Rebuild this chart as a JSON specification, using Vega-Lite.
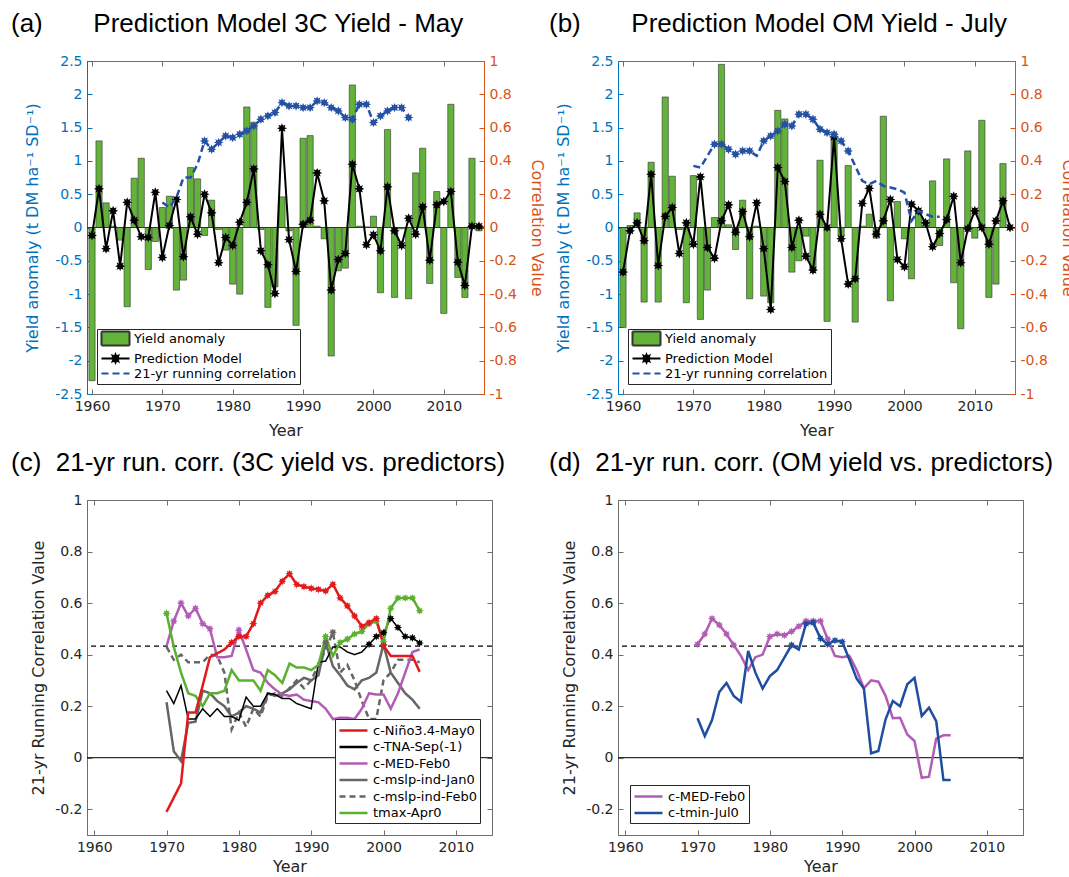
{
"$schema": "https://vega.github.io/schema/vega-lite/v6.json",
"background": "white",
"padding": {"left": 10, "top": 10, "right": 0, "bottom": 0},
"columns": 2,
"spacing": {"row": 106, "column": 126},
"bounds": "flush",
"resolve": {"scale": {"color": "independent", "strokeDash": "independent", "fill": "independent", "stroke": "independent", "shape": "independent"}, "legend": {"color": "independent", "strokeDash": "independent", "fill": "independent", "stroke": "independent", "shape": "independent"}},
"datasets": {
"a_yield": [{"year":1960,"yield":-2.3},{"year":1961,"yield":1.3},{"year":1962,"yield":0.37},{"year":1963,"yield":0.02},{"year":1964,"yield":-0.19},{"year":1965,"yield":-1.19},{"year":1966,"yield":0.74},{"year":1967,"yield":1.04},{"year":1968,"yield":-0.63},{"year":1969,"yield":-0.21},{"year":1970,"yield":0.3},{"year":1971,"yield":0.47},{"year":1972,"yield":-0.94},{"year":1973,"yield":-0.79},{"year":1974,"yield":0.9},{"year":1975,"yield":0.73},{"year":1976,"yield":-0.12},{"year":1977,"yield":0.41},{"year":1978,"yield":-0.03},{"year":1979,"yield":-0.34},{"year":1980,"yield":-0.85},{"year":1981,"yield":-1.0},{"year":1982,"yield":1.81},{"year":1983,"yield":1.58},{"year":1984,"yield":-0.03},{"year":1985,"yield":-1.2},{"year":1986,"yield":-0.89},{"year":1987,"yield":0.46},{"year":1988,"yield":-0.05},{"year":1989,"yield":-1.47},{"year":1990,"yield":1.34},{"year":1991,"yield":1.38},{"year":1992,"yield":0.02},{"year":1993,"yield":-0.17},{"year":1994,"yield":-1.93},{"year":1995,"yield":-0.65},{"year":1996,"yield":-0.61},{"year":1997,"yield":2.14},{"year":1998,"yield":0.02},{"year":1999,"yield":0.01},{"year":2000,"yield":0.17},{"year":2001,"yield":-0.98},{"year":2002,"yield":1.47},{"year":2003,"yield":-1.05},{"year":2004,"yield":-0.02},{"year":2005,"yield":-1.07},{"year":2006,"yield":0.82},{"year":2007,"yield":1.19},{"year":2008,"yield":-0.84},{"year":2009,"yield":0.54},{"year":2010,"yield":-1.29},{"year":2011,"yield":1.85},{"year":2012,"yield":-0.75},{"year":2013,"yield":-1.05},{"year":2014,"yield":1.04},{"year":2015,"yield":-0.05}],
"a_pred": [{"year":1960,"pred":-0.12},{"year":1961,"pred":0.58},{"year":1962,"pred":-0.32},{"year":1963,"pred":0.25},{"year":1964,"pred":-0.58},{"year":1965,"pred":0.38},{"year":1966,"pred":0.11},{"year":1967,"pred":-0.14},{"year":1968,"pred":-0.15},{"year":1969,"pred":0.53},{"year":1970,"pred":-0.45},{"year":1971,"pred":0.03},{"year":1972,"pred":0.42},{"year":1973,"pred":-0.44},{"year":1974,"pred":0.16},{"year":1975,"pred":-0.1},{"year":1976,"pred":0.5},{"year":1977,"pred":0.22},{"year":1978,"pred":-0.53},{"year":1979,"pred":-0.15},{"year":1980,"pred":-0.27},{"year":1981,"pred":0.08},{"year":1982,"pred":0.38},{"year":1983,"pred":0.88},{"year":1984,"pred":-0.35},{"year":1985,"pred":-0.56},{"year":1986,"pred":-0.99},{"year":1987,"pred":1.49},{"year":1988,"pred":-0.18},{"year":1989,"pred":-0.66},{"year":1990,"pred":0.05},{"year":1991,"pred":0.11},{"year":1992,"pred":0.82},{"year":1993,"pred":0.4},{"year":1994,"pred":-0.94},{"year":1995,"pred":-0.48},{"year":1996,"pred":-0.39},{"year":1997,"pred":0.95},{"year":1998,"pred":0.58},{"year":1999,"pred":-0.26},{"year":2000,"pred":-0.11},{"year":2001,"pred":-0.35},{"year":2002,"pred":0.61},{"year":2003,"pred":-0.05},{"year":2004,"pred":-0.27},{"year":2005,"pred":0.14},{"year":2006,"pred":-0.1},{"year":2007,"pred":0.31},{"year":2008,"pred":-0.49},{"year":2009,"pred":0.34},{"year":2010,"pred":0.39},{"year":2011,"pred":0.54},{"year":2012,"pred":-0.52},{"year":2013,"pred":-0.87},{"year":2014,"pred":0.02},{"year":2015,"pred":0.02}],
"a_corr": [{"year":1970,"corr":0.15,"sig":false},{"year":1971,"corr":0.12,"sig":false},{"year":1972,"corr":0.18,"sig":false},{"year":1973,"corr":0.3,"sig":false},{"year":1974,"corr":0.3,"sig":false},{"year":1975,"corr":0.38,"sig":false},{"year":1976,"corr":0.52,"sig":true},{"year":1977,"corr":0.47,"sig":true},{"year":1978,"corr":0.51,"sig":true},{"year":1979,"corr":0.55,"sig":true},{"year":1980,"corr":0.54,"sig":true},{"year":1981,"corr":0.56,"sig":true},{"year":1982,"corr":0.58,"sig":true},{"year":1983,"corr":0.61,"sig":true},{"year":1984,"corr":0.65,"sig":true},{"year":1985,"corr":0.67,"sig":true},{"year":1986,"corr":0.69,"sig":true},{"year":1987,"corr":0.75,"sig":true},{"year":1988,"corr":0.73,"sig":true},{"year":1989,"corr":0.73,"sig":true},{"year":1990,"corr":0.72,"sig":true},{"year":1991,"corr":0.72,"sig":true},{"year":1992,"corr":0.76,"sig":true},{"year":1993,"corr":0.75,"sig":true},{"year":1994,"corr":0.72,"sig":true},{"year":1995,"corr":0.7,"sig":true},{"year":1996,"corr":0.66,"sig":true},{"year":1997,"corr":0.65,"sig":true},{"year":1998,"corr":0.74,"sig":true},{"year":1999,"corr":0.74,"sig":true},{"year":2000,"corr":0.63,"sig":true},{"year":2001,"corr":0.67,"sig":true},{"year":2002,"corr":0.7,"sig":true},{"year":2003,"corr":0.72,"sig":true},{"year":2004,"corr":0.72,"sig":true},{"year":2005,"corr":0.66,"sig":true}],
"b_yield": [{"year":1960,"yield":-1.5},{"year":1961,"yield":0.03},{"year":1962,"yield":0.22},{"year":1963,"yield":-1.12},{"year":1964,"yield":0.98},{"year":1965,"yield":-1.12},{"year":1966,"yield":1.96},{"year":1967,"yield":0.77},{"year":1968,"yield":-0.03},{"year":1969,"yield":-1.13},{"year":1970,"yield":0.78},{"year":1971,"yield":-1.38},{"year":1972,"yield":-0.94},{"year":1973,"yield":0.15},{"year":1974,"yield":2.45},{"year":1975,"yield":0.04},{"year":1976,"yield":-0.33},{"year":1977,"yield":0.41},{"year":1978,"yield":-1.07},{"year":1979,"yield":0.02},{"year":1980,"yield":-1.03},{"year":1981,"yield":-1.13},{"year":1982,"yield":1.76},{"year":1983,"yield":1.63},{"year":1984,"yield":-0.67},{"year":1985,"yield":-0.5},{"year":1986,"yield":-0.13},{"year":1987,"yield":-0.63},{"year":1988,"yield":1.01},{"year":1989,"yield":-1.41},{"year":1990,"yield":1.34},{"year":1991,"yield":-0.13},{"year":1992,"yield":0.93},{"year":1993,"yield":-1.42},{"year":1994,"yield":0.02},{"year":1995,"yield":0.2},{"year":1996,"yield":-0.16},{"year":1997,"yield":1.67},{"year":1998,"yield":-1.1},{"year":1999,"yield":0.39},{"year":2000,"yield":-0.17},{"year":2001,"yield":-0.77},{"year":2002,"yield":0.25},{"year":2003,"yield":0.02},{"year":2004,"yield":0.7},{"year":2005,"yield":-0.27},{"year":2006,"yield":1.03},{"year":2007,"yield":-0.83},{"year":2008,"yield":-1.52},{"year":2009,"yield":1.15},{"year":2010,"yield":-0.16},{"year":2011,"yield":1.61},{"year":2012,"yield":-1.05},{"year":2013,"yield":-0.85},{"year":2014,"yield":0.96}],
"b_pred": [{"year":1960,"pred":-0.67},{"year":1961,"pred":-0.05},{"year":1962,"pred":0.07},{"year":1963,"pred":-0.2},{"year":1964,"pred":0.8},{"year":1965,"pred":-0.57},{"year":1966,"pred":0.17},{"year":1967,"pred":0.3},{"year":1968,"pred":-0.39},{"year":1969,"pred":0.07},{"year":1970,"pred":-0.25},{"year":1971,"pred":0.76},{"year":1972,"pred":-0.3},{"year":1973,"pred":-0.46},{"year":1974,"pred":0.1},{"year":1975,"pred":0.34},{"year":1976,"pred":-0.07},{"year":1977,"pred":0.24},{"year":1978,"pred":-0.14},{"year":1979,"pred":0.37},{"year":1980,"pred":-0.32},{"year":1981,"pred":-1.23},{"year":1982,"pred":0.9},{"year":1983,"pred":0.69},{"year":1984,"pred":-0.3},{"year":1985,"pred":0.11},{"year":1986,"pred":-0.43},{"year":1987,"pred":-0.64},{"year":1988,"pred":0.2},{"year":1989,"pred":0.0},{"year":1990,"pred":1.36},{"year":1991,"pred":-0.17},{"year":1992,"pred":-0.85},{"year":1993,"pred":-0.77},{"year":1994,"pred":0.36},{"year":1995,"pred":0.59},{"year":1996,"pred":-0.1},{"year":1997,"pred":0.1},{"year":1998,"pred":0.42},{"year":1999,"pred":-0.48},{"year":2000,"pred":-0.59},{"year":2001,"pred":0.35},{"year":2002,"pred":0.25},{"year":2003,"pred":0.07},{"year":2004,"pred":-0.29},{"year":2005,"pred":-0.09},{"year":2006,"pred":0.12},{"year":2007,"pred":0.47},{"year":2008,"pred":-0.53},{"year":2009,"pred":-0.02},{"year":2010,"pred":0.25},{"year":2011,"pred":0.0},{"year":2012,"pred":-0.25},{"year":2013,"pred":0.1},{"year":2014,"pred":0.4},{"year":2015,"pred":0.0}],
"b_corr": [{"year":1970,"corr":0.37,"sig":false},{"year":1971,"corr":0.36,"sig":false},{"year":1972,"corr":0.43,"sig":false},{"year":1973,"corr":0.5,"sig":true},{"year":1974,"corr":0.5,"sig":true},{"year":1975,"corr":0.47,"sig":true},{"year":1976,"corr":0.44,"sig":true},{"year":1977,"corr":0.46,"sig":true},{"year":1978,"corr":0.46,"sig":true},{"year":1979,"corr":0.43,"sig":false},{"year":1980,"corr":0.52,"sig":true},{"year":1981,"corr":0.55,"sig":true},{"year":1982,"corr":0.58,"sig":true},{"year":1983,"corr":0.62,"sig":true},{"year":1984,"corr":0.61,"sig":true},{"year":1985,"corr":0.68,"sig":true},{"year":1986,"corr":0.68,"sig":true},{"year":1987,"corr":0.65,"sig":true},{"year":1988,"corr":0.59,"sig":true},{"year":1989,"corr":0.57,"sig":true},{"year":1990,"corr":0.56,"sig":true},{"year":1991,"corr":0.52,"sig":true},{"year":1992,"corr":0.46,"sig":true},{"year":1993,"corr":0.37,"sig":false},{"year":1994,"corr":0.28,"sig":false},{"year":1995,"corr":0.26,"sig":false},{"year":1996,"corr":0.28,"sig":false},{"year":1997,"corr":0.25,"sig":false},{"year":1998,"corr":0.24,"sig":false},{"year":1999,"corr":0.23,"sig":false},{"year":2000,"corr":0.21,"sig":false},{"year":2001,"corr":0.04,"sig":false},{"year":2002,"corr":0.1,"sig":false},{"year":2003,"corr":0.08,"sig":false},{"year":2004,"corr":0.065,"sig":false},{"year":2005,"corr":0.065,"sig":false}],
"c": [
{"year":1970,"series":"c-mslp-ind-Feb0","r":0.43,"sig":false},{"year":1971,"series":"c-mslp-ind-Feb0","r":0.38,"sig":false},{"year":1972,"series":"c-mslp-ind-Feb0","r":0.4,"sig":false},{"year":1973,"series":"c-mslp-ind-Feb0","r":0.37,"sig":false},{"year":1974,"series":"c-mslp-ind-Feb0","r":0.37,"sig":false},{"year":1975,"series":"c-mslp-ind-Feb0","r":0.37,"sig":false},{"year":1976,"series":"c-mslp-ind-Feb0","r":0.4,"sig":false},{"year":1977,"series":"c-mslp-ind-Feb0","r":0.395,"sig":false},{"year":1978,"series":"c-mslp-ind-Feb0","r":0.33,"sig":false},{"year":1979,"series":"c-mslp-ind-Feb0","r":0.11,"sig":false},{"year":1980,"series":"c-mslp-ind-Feb0","r":0.175,"sig":false},{"year":1981,"series":"c-mslp-ind-Feb0","r":0.12,"sig":false},{"year":1982,"series":"c-mslp-ind-Feb0","r":0.19,"sig":false},{"year":1983,"series":"c-mslp-ind-Feb0","r":0.16,"sig":false},{"year":1984,"series":"c-mslp-ind-Feb0","r":0.24,"sig":false},{"year":1985,"series":"c-mslp-ind-Feb0","r":0.25,"sig":false},{"year":1986,"series":"c-mslp-ind-Feb0","r":0.24,"sig":false},{"year":1987,"series":"c-mslp-ind-Feb0","r":0.27,"sig":false},{"year":1988,"series":"c-mslp-ind-Feb0","r":0.3,"sig":false},{"year":1989,"series":"c-mslp-ind-Feb0","r":0.27,"sig":false},{"year":1990,"series":"c-mslp-ind-Feb0","r":0.3,"sig":false},{"year":1991,"series":"c-mslp-ind-Feb0","r":0.36,"sig":false},{"year":1992,"series":"c-mslp-ind-Feb0","r":0.42,"sig":false},{"year":1993,"series":"c-mslp-ind-Feb0","r":0.487,"sig":true},{"year":1994,"series":"c-mslp-ind-Feb0","r":0.33,"sig":false},{"year":1995,"series":"c-mslp-ind-Feb0","r":0.36,"sig":false},{"year":1996,"series":"c-mslp-ind-Feb0","r":0.3,"sig":false},{"year":1997,"series":"c-mslp-ind-Feb0","r":0.22,"sig":false},{"year":1998,"series":"c-mslp-ind-Feb0","r":0.15,"sig":false},{"year":1999,"series":"c-mslp-ind-Feb0","r":0.15,"sig":false},{"year":2000,"series":"c-mslp-ind-Feb0","r":0.3,"sig":false},{"year":2001,"series":"c-mslp-ind-Feb0","r":0.33,"sig":false},{"year":2002,"series":"c-mslp-ind-Feb0","r":0.38,"sig":false},{"year":2003,"series":"c-mslp-ind-Feb0","r":0.38,"sig":false},{"year":2004,"series":"c-mslp-ind-Feb0","r":0.38,"sig":false},{"year":2005,"series":"c-mslp-ind-Feb0","r":0.37,"sig":false},
{"year":1970,"series":"c-mslp-ind-Jan0","r":0.215,"sig":false},{"year":1971,"series":"c-mslp-ind-Jan0","r":0.025,"sig":false},{"year":1972,"series":"c-mslp-ind-Jan0","r":-0.013,"sig":false},{"year":1973,"series":"c-mslp-ind-Jan0","r":0.135,"sig":false},{"year":1974,"series":"c-mslp-ind-Jan0","r":0.14,"sig":false},{"year":1975,"series":"c-mslp-ind-Jan0","r":0.26,"sig":false},{"year":1976,"series":"c-mslp-ind-Jan0","r":0.25,"sig":false},{"year":1977,"series":"c-mslp-ind-Jan0","r":0.22,"sig":false},{"year":1978,"series":"c-mslp-ind-Jan0","r":0.2,"sig":false},{"year":1979,"series":"c-mslp-ind-Jan0","r":0.16,"sig":false},{"year":1980,"series":"c-mslp-ind-Jan0","r":0.175,"sig":false},{"year":1981,"series":"c-mslp-ind-Jan0","r":0.2,"sig":false},{"year":1982,"series":"c-mslp-ind-Jan0","r":0.19,"sig":false},{"year":1983,"series":"c-mslp-ind-Jan0","r":0.175,"sig":false},{"year":1984,"series":"c-mslp-ind-Jan0","r":0.25,"sig":false},{"year":1985,"series":"c-mslp-ind-Jan0","r":0.24,"sig":false},{"year":1986,"series":"c-mslp-ind-Jan0","r":0.25,"sig":false},{"year":1987,"series":"c-mslp-ind-Jan0","r":0.265,"sig":false},{"year":1988,"series":"c-mslp-ind-Jan0","r":0.29,"sig":false},{"year":1989,"series":"c-mslp-ind-Jan0","r":0.31,"sig":false},{"year":1990,"series":"c-mslp-ind-Jan0","r":0.3,"sig":false},{"year":1991,"series":"c-mslp-ind-Jan0","r":0.32,"sig":false},{"year":1992,"series":"c-mslp-ind-Jan0","r":0.447,"sig":true},{"year":1993,"series":"c-mslp-ind-Jan0","r":0.355,"sig":false},{"year":1994,"series":"c-mslp-ind-Jan0","r":0.32,"sig":false},{"year":1995,"series":"c-mslp-ind-Jan0","r":0.28,"sig":false},{"year":1996,"series":"c-mslp-ind-Jan0","r":0.265,"sig":false},{"year":1997,"series":"c-mslp-ind-Jan0","r":0.3,"sig":false},{"year":1998,"series":"c-mslp-ind-Jan0","r":0.31,"sig":false},{"year":1999,"series":"c-mslp-ind-Jan0","r":0.33,"sig":false},{"year":2000,"series":"c-mslp-ind-Jan0","r":0.44,"sig":true},{"year":2001,"series":"c-mslp-ind-Jan0","r":0.33,"sig":false},{"year":2002,"series":"c-mslp-ind-Jan0","r":0.29,"sig":false},{"year":2003,"series":"c-mslp-ind-Jan0","r":0.25,"sig":false},{"year":2004,"series":"c-mslp-ind-Jan0","r":0.225,"sig":false},{"year":2005,"series":"c-mslp-ind-Jan0","r":0.19,"sig":false},
{"year":1970,"series":"c-MED-Feb0","r":0.433,"sig":false},{"year":1971,"series":"c-MED-Feb0","r":0.53,"sig":true},{"year":1972,"series":"c-MED-Feb0","r":0.6,"sig":true},{"year":1973,"series":"c-MED-Feb0","r":0.55,"sig":true},{"year":1974,"series":"c-MED-Feb0","r":0.58,"sig":true},{"year":1975,"series":"c-MED-Feb0","r":0.52,"sig":true},{"year":1976,"series":"c-MED-Feb0","r":0.5,"sig":true},{"year":1977,"series":"c-MED-Feb0","r":0.39,"sig":false},{"year":1978,"series":"c-MED-Feb0","r":0.39,"sig":false},{"year":1979,"series":"c-MED-Feb0","r":0.395,"sig":false},{"year":1980,"series":"c-MED-Feb0","r":0.495,"sig":true},{"year":1981,"series":"c-MED-Feb0","r":0.42,"sig":false},{"year":1982,"series":"c-MED-Feb0","r":0.34,"sig":false},{"year":1983,"series":"c-MED-Feb0","r":0.33,"sig":false},{"year":1984,"series":"c-MED-Feb0","r":0.29,"sig":false},{"year":1985,"series":"c-MED-Feb0","r":0.265,"sig":false},{"year":1986,"series":"c-MED-Feb0","r":0.245,"sig":false},{"year":1987,"series":"c-MED-Feb0","r":0.24,"sig":false},{"year":1988,"series":"c-MED-Feb0","r":0.245,"sig":false},{"year":1989,"series":"c-MED-Feb0","r":0.225,"sig":false},{"year":1990,"series":"c-MED-Feb0","r":0.22,"sig":false},{"year":1991,"series":"c-MED-Feb0","r":0.215,"sig":false},{"year":1992,"series":"c-MED-Feb0","r":0.19,"sig":false},{"year":1993,"series":"c-MED-Feb0","r":0.15,"sig":false},{"year":1994,"series":"c-MED-Feb0","r":0.155,"sig":false},{"year":1995,"series":"c-MED-Feb0","r":0.155,"sig":false},{"year":1996,"series":"c-MED-Feb0","r":0.15,"sig":false},{"year":1997,"series":"c-MED-Feb0","r":0.19,"sig":false},{"year":1998,"series":"c-MED-Feb0","r":0.25,"sig":false},{"year":1999,"series":"c-MED-Feb0","r":0.245,"sig":false},{"year":2000,"series":"c-MED-Feb0","r":0.245,"sig":false},{"year":2001,"series":"c-MED-Feb0","r":0.19,"sig":false},{"year":2002,"series":"c-MED-Feb0","r":0.25,"sig":false},{"year":2003,"series":"c-MED-Feb0","r":0.33,"sig":false},{"year":2004,"series":"c-MED-Feb0","r":0.41,"sig":false},{"year":2005,"series":"c-MED-Feb0","r":0.42,"sig":false},
{"year":1970,"series":"c-TNA-Sep(-1)","r":0.26,"sig":false},{"year":1971,"series":"c-TNA-Sep(-1)","r":0.21,"sig":false},{"year":1972,"series":"c-TNA-Sep(-1)","r":0.28,"sig":false},{"year":1973,"series":"c-TNA-Sep(-1)","r":0.15,"sig":false},{"year":1974,"series":"c-TNA-Sep(-1)","r":0.15,"sig":false},{"year":1975,"series":"c-TNA-Sep(-1)","r":0.19,"sig":false},{"year":1976,"series":"c-TNA-Sep(-1)","r":0.16,"sig":false},{"year":1977,"series":"c-TNA-Sep(-1)","r":0.19,"sig":false},{"year":1978,"series":"c-TNA-Sep(-1)","r":0.16,"sig":false},{"year":1979,"series":"c-TNA-Sep(-1)","r":0.16,"sig":false},{"year":1980,"series":"c-TNA-Sep(-1)","r":0.145,"sig":false},{"year":1981,"series":"c-TNA-Sep(-1)","r":0.235,"sig":false},{"year":1982,"series":"c-TNA-Sep(-1)","r":0.2,"sig":false},{"year":1983,"series":"c-TNA-Sep(-1)","r":0.2,"sig":false},{"year":1984,"series":"c-TNA-Sep(-1)","r":0.25,"sig":false},{"year":1985,"series":"c-TNA-Sep(-1)","r":0.245,"sig":false},{"year":1986,"series":"c-TNA-Sep(-1)","r":0.23,"sig":false},{"year":1987,"series":"c-TNA-Sep(-1)","r":0.23,"sig":false},{"year":1988,"series":"c-TNA-Sep(-1)","r":0.21,"sig":false},{"year":1989,"series":"c-TNA-Sep(-1)","r":0.2,"sig":false},{"year":1990,"series":"c-TNA-Sep(-1)","r":0.19,"sig":false},{"year":1991,"series":"c-TNA-Sep(-1)","r":0.37,"sig":false},{"year":1992,"series":"c-TNA-Sep(-1)","r":0.375,"sig":false},{"year":1993,"series":"c-TNA-Sep(-1)","r":0.43,"sig":false},{"year":1994,"series":"c-TNA-Sep(-1)","r":0.43,"sig":false},{"year":1995,"series":"c-TNA-Sep(-1)","r":0.41,"sig":false},{"year":1996,"series":"c-TNA-Sep(-1)","r":0.4,"sig":false},{"year":1997,"series":"c-TNA-Sep(-1)","r":0.41,"sig":false},{"year":1998,"series":"c-TNA-Sep(-1)","r":0.44,"sig":true},{"year":1999,"series":"c-TNA-Sep(-1)","r":0.47,"sig":true},{"year":2000,"series":"c-TNA-Sep(-1)","r":0.485,"sig":true},{"year":2001,"series":"c-TNA-Sep(-1)","r":0.54,"sig":true},{"year":2002,"series":"c-TNA-Sep(-1)","r":0.505,"sig":true},{"year":2003,"series":"c-TNA-Sep(-1)","r":0.47,"sig":true},{"year":2004,"series":"c-TNA-Sep(-1)","r":0.465,"sig":true},{"year":2005,"series":"c-TNA-Sep(-1)","r":0.445,"sig":true},
{"year":1970,"series":"tmax-Apr0","r":0.56,"sig":true},{"year":1971,"series":"tmax-Apr0","r":0.43,"sig":false},{"year":1972,"series":"tmax-Apr0","r":0.33,"sig":false},{"year":1973,"series":"tmax-Apr0","r":0.25,"sig":false},{"year":1974,"series":"tmax-Apr0","r":0.24,"sig":false},{"year":1975,"series":"tmax-Apr0","r":0.2,"sig":false},{"year":1976,"series":"tmax-Apr0","r":0.25,"sig":false},{"year":1977,"series":"tmax-Apr0","r":0.25,"sig":false},{"year":1978,"series":"tmax-Apr0","r":0.26,"sig":false},{"year":1979,"series":"tmax-Apr0","r":0.34,"sig":false},{"year":1980,"series":"tmax-Apr0","r":0.3,"sig":false},{"year":1981,"series":"tmax-Apr0","r":0.3,"sig":false},{"year":1982,"series":"tmax-Apr0","r":0.3,"sig":false},{"year":1983,"series":"tmax-Apr0","r":0.26,"sig":false},{"year":1984,"series":"tmax-Apr0","r":0.34,"sig":false},{"year":1985,"series":"tmax-Apr0","r":0.32,"sig":false},{"year":1986,"series":"tmax-Apr0","r":0.29,"sig":false},{"year":1987,"series":"tmax-Apr0","r":0.365,"sig":false},{"year":1988,"series":"tmax-Apr0","r":0.35,"sig":false},{"year":1989,"series":"tmax-Apr0","r":0.35,"sig":false},{"year":1990,"series":"tmax-Apr0","r":0.34,"sig":false},{"year":1991,"series":"tmax-Apr0","r":0.36,"sig":false},{"year":1992,"series":"tmax-Apr0","r":0.47,"sig":true},{"year":1993,"series":"tmax-Apr0","r":0.395,"sig":false},{"year":1994,"series":"tmax-Apr0","r":0.447,"sig":true},{"year":1995,"series":"tmax-Apr0","r":0.46,"sig":true},{"year":1996,"series":"tmax-Apr0","r":0.48,"sig":true},{"year":1997,"series":"tmax-Apr0","r":0.49,"sig":true},{"year":1998,"series":"tmax-Apr0","r":0.52,"sig":true},{"year":1999,"series":"tmax-Apr0","r":0.53,"sig":true},{"year":2000,"series":"tmax-Apr0","r":0.45,"sig":true},{"year":2001,"series":"tmax-Apr0","r":0.58,"sig":true},{"year":2002,"series":"tmax-Apr0","r":0.62,"sig":true},{"year":2003,"series":"tmax-Apr0","r":0.62,"sig":true},{"year":2004,"series":"tmax-Apr0","r":0.62,"sig":true},{"year":2005,"series":"tmax-Apr0","r":0.57,"sig":true},
{"year":1970,"series":"c-Niño3.4-May0","r":-0.21,"sig":false},{"year":1971,"series":"c-Niño3.4-May0","r":-0.155,"sig":false},{"year":1972,"series":"c-Niño3.4-May0","r":-0.1,"sig":false},{"year":1973,"series":"c-Niño3.4-May0","r":0.175,"sig":false},{"year":1974,"series":"c-Niño3.4-May0","r":0.175,"sig":false},{"year":1975,"series":"c-Niño3.4-May0","r":0.28,"sig":false},{"year":1976,"series":"c-Niño3.4-May0","r":0.39,"sig":false},{"year":1977,"series":"c-Niño3.4-May0","r":0.405,"sig":false},{"year":1978,"series":"c-Niño3.4-May0","r":0.42,"sig":false},{"year":1979,"series":"c-Niño3.4-May0","r":0.447,"sig":true},{"year":1980,"series":"c-Niño3.4-May0","r":0.47,"sig":true},{"year":1981,"series":"c-Niño3.4-May0","r":0.47,"sig":true},{"year":1982,"series":"c-Niño3.4-May0","r":0.52,"sig":true},{"year":1983,"series":"c-Niño3.4-May0","r":0.6,"sig":true},{"year":1984,"series":"c-Niño3.4-May0","r":0.63,"sig":true},{"year":1985,"series":"c-Niño3.4-May0","r":0.645,"sig":true},{"year":1986,"series":"c-Niño3.4-May0","r":0.685,"sig":true},{"year":1987,"series":"c-Niño3.4-May0","r":0.714,"sig":true},{"year":1988,"series":"c-Niño3.4-May0","r":0.672,"sig":true},{"year":1989,"series":"c-Niño3.4-May0","r":0.664,"sig":true},{"year":1990,"series":"c-Niño3.4-May0","r":0.657,"sig":true},{"year":1991,"series":"c-Niño3.4-May0","r":0.653,"sig":true},{"year":1992,"series":"c-Niño3.4-May0","r":0.647,"sig":true},{"year":1993,"series":"c-Niño3.4-May0","r":0.673,"sig":true},{"year":1994,"series":"c-Niño3.4-May0","r":0.62,"sig":true},{"year":1995,"series":"c-Niño3.4-May0","r":0.589,"sig":true},{"year":1996,"series":"c-Niño3.4-May0","r":0.55,"sig":true},{"year":1997,"series":"c-Niño3.4-May0","r":0.51,"sig":true},{"year":1998,"series":"c-Niño3.4-May0","r":0.524,"sig":true},{"year":1999,"series":"c-Niño3.4-May0","r":0.54,"sig":true},{"year":2000,"series":"c-Niño3.4-May0","r":0.435,"sig":true},{"year":2001,"series":"c-Niño3.4-May0","r":0.395,"sig":false},{"year":2002,"series":"c-Niño3.4-May0","r":0.395,"sig":false},{"year":2003,"series":"c-Niño3.4-May0","r":0.395,"sig":false},{"year":2004,"series":"c-Niño3.4-May0","r":0.395,"sig":false},{"year":2005,"series":"c-Niño3.4-May0","r":0.333,"sig":false}
],
"d": [
{"year":1970,"series":"c-MED-Feb0","r":0.44,"sig":true},{"year":1971,"series":"c-MED-Feb0","r":0.48,"sig":true},{"year":1972,"series":"c-MED-Feb0","r":0.54,"sig":true},{"year":1973,"series":"c-MED-Feb0","r":0.515,"sig":true},{"year":1974,"series":"c-MED-Feb0","r":0.48,"sig":true},{"year":1975,"series":"c-MED-Feb0","r":0.437,"sig":true},{"year":1976,"series":"c-MED-Feb0","r":0.395,"sig":false},{"year":1977,"series":"c-MED-Feb0","r":0.34,"sig":false},{"year":1978,"series":"c-MED-Feb0","r":0.39,"sig":false},{"year":1979,"series":"c-MED-Feb0","r":0.4,"sig":false},{"year":1980,"series":"c-MED-Feb0","r":0.47,"sig":true},{"year":1981,"series":"c-MED-Feb0","r":0.48,"sig":true},{"year":1982,"series":"c-MED-Feb0","r":0.475,"sig":true},{"year":1983,"series":"c-MED-Feb0","r":0.49,"sig":true},{"year":1984,"series":"c-MED-Feb0","r":0.51,"sig":true},{"year":1985,"series":"c-MED-Feb0","r":0.53,"sig":true},{"year":1986,"series":"c-MED-Feb0","r":0.53,"sig":true},{"year":1987,"series":"c-MED-Feb0","r":0.53,"sig":true},{"year":1988,"series":"c-MED-Feb0","r":0.46,"sig":true},{"year":1989,"series":"c-MED-Feb0","r":0.395,"sig":false},{"year":1990,"series":"c-MED-Feb0","r":0.39,"sig":false},{"year":1991,"series":"c-MED-Feb0","r":0.395,"sig":false},{"year":1992,"series":"c-MED-Feb0","r":0.34,"sig":false},{"year":1993,"series":"c-MED-Feb0","r":0.27,"sig":false},{"year":1994,"series":"c-MED-Feb0","r":0.3,"sig":false},{"year":1995,"series":"c-MED-Feb0","r":0.295,"sig":false},{"year":1996,"series":"c-MED-Feb0","r":0.24,"sig":false},{"year":1997,"series":"c-MED-Feb0","r":0.153,"sig":false},{"year":1998,"series":"c-MED-Feb0","r":0.155,"sig":false},{"year":1999,"series":"c-MED-Feb0","r":0.09,"sig":false},{"year":2000,"series":"c-MED-Feb0","r":0.065,"sig":false},{"year":2001,"series":"c-MED-Feb0","r":-0.078,"sig":false},{"year":2002,"series":"c-MED-Feb0","r":-0.074,"sig":false},{"year":2003,"series":"c-MED-Feb0","r":0.074,"sig":false},{"year":2004,"series":"c-MED-Feb0","r":0.087,"sig":false},{"year":2005,"series":"c-MED-Feb0","r":0.087,"sig":false},
{"year":1970,"series":"c-tmin-Jul0","r":0.153,"sig":false},{"year":1971,"series":"c-tmin-Jul0","r":0.084,"sig":false},{"year":1972,"series":"c-tmin-Jul0","r":0.146,"sig":false},{"year":1973,"series":"c-tmin-Jul0","r":0.255,"sig":false},{"year":1974,"series":"c-tmin-Jul0","r":0.29,"sig":false},{"year":1975,"series":"c-tmin-Jul0","r":0.24,"sig":false},{"year":1976,"series":"c-tmin-Jul0","r":0.217,"sig":false},{"year":1977,"series":"c-tmin-Jul0","r":0.414,"sig":false},{"year":1978,"series":"c-tmin-Jul0","r":0.33,"sig":false},{"year":1979,"series":"c-tmin-Jul0","r":0.268,"sig":false},{"year":1980,"series":"c-tmin-Jul0","r":0.317,"sig":false},{"year":1981,"series":"c-tmin-Jul0","r":0.34,"sig":false},{"year":1982,"series":"c-tmin-Jul0","r":0.388,"sig":false},{"year":1983,"series":"c-tmin-Jul0","r":0.437,"sig":true},{"year":1984,"series":"c-tmin-Jul0","r":0.42,"sig":false},{"year":1985,"series":"c-tmin-Jul0","r":0.52,"sig":true},{"year":1986,"series":"c-tmin-Jul0","r":0.524,"sig":true},{"year":1987,"series":"c-tmin-Jul0","r":0.463,"sig":true},{"year":1988,"series":"c-tmin-Jul0","r":0.44,"sig":true},{"year":1989,"series":"c-tmin-Jul0","r":0.455,"sig":true},{"year":1990,"series":"c-tmin-Jul0","r":0.45,"sig":true},{"year":1991,"series":"c-tmin-Jul0","r":0.38,"sig":false},{"year":1992,"series":"c-tmin-Jul0","r":0.307,"sig":false},{"year":1993,"series":"c-tmin-Jul0","r":0.268,"sig":false},{"year":1994,"series":"c-tmin-Jul0","r":0.017,"sig":false},{"year":1995,"series":"c-tmin-Jul0","r":0.026,"sig":false},{"year":1996,"series":"c-tmin-Jul0","r":0.149,"sig":false},{"year":1997,"series":"c-tmin-Jul0","r":0.22,"sig":false},{"year":1998,"series":"c-tmin-Jul0","r":0.2,"sig":false},{"year":1999,"series":"c-tmin-Jul0","r":0.285,"sig":false},{"year":2000,"series":"c-tmin-Jul0","r":0.31,"sig":false},{"year":2001,"series":"c-tmin-Jul0","r":0.162,"sig":false},{"year":2002,"series":"c-tmin-Jul0","r":0.194,"sig":false},{"year":2003,"series":"c-tmin-Jul0","r":0.142,"sig":false},{"year":2004,"series":"c-tmin-Jul0","r":-0.087,"sig":false},{"year":2005,"series":"c-tmin-Jul0","r":-0.087,"sig":false}
]
},
"concat": [
{
"width": 397, "height": 333,
"title": {"text": "(a)\u00a0\u00a0\u00a0\u00a0\u00a0\u00a0\u00a0Prediction Model 3C Yield - May", "dx": -76, "offset": 17},
"layer": [
{"layer": [
{"data": {"name": "a_yield"}, "mark": {"type": "bar", "size": 6.2, "color": "#63b33a", "stroke": "#333333", "strokeWidth": 0.6, "clip": true},
"encoding": {
"x": {"field": "year", "type": "quantitative", "scale": {"domain": [1960, 2015], "nice": false, "zero": false}, "axis": {"values": [1960,1970,1980,1990,2000,2010], "format": "d", "title": "Year", "titlePadding": 9, "labelOverlap": false}},
"y": {"field": "yield", "type": "quantitative", "scale": {"domain": [-2.5, 2.5], "nice": false}, "axis": {"values": [-2.5,-2,-1.5,-1,-0.5,0,0.5,1,1.5,2,2.5], "tickCount": 30, "labelOverlap": false, "labelExpr": "datum.value < 0 ? '-' + format(-datum.value, '~g') : format(datum.value, '~g')", "title": "Yield anomaly (t DM ha⁻¹ SD⁻¹)", "titlePadding": 14, "domainColor": "#0072BD", "tickColor": "#0072BD", "labelColor": "#0072BD", "titleColor": "#0072BD"}}
}},
{"data": {"values": [{"yield": 0}]}, "mark": {"type": "rule", "color": "#333333", "strokeWidth": 1}, "encoding": {"y": {"field": "yield", "type": "quantitative"}}},
{"data": {"name": "a_pred"}, "mark": {"type": "line", "strokeWidth": 2, "color": "#000000", "clip": true}, "encoding": {"x": {"field": "year", "type": "quantitative"}, "y": {"field": "pred", "type": "quantitative", "title": "Yield anomaly (t DM ha⁻¹ SD⁻¹)"}}},
{"data": {"name": "a_pred"}, "mark": {"type": "point", "shape": "M1,0L0.508,0.21L0.707,0.707L0.21,0.508L0,1L-0.21,0.508L-0.707,0.707L-0.508,0.21L-1,0L-0.508,-0.21L-0.707,-0.707L-0.21,-0.508L0,-1L0.21,-0.508L0.707,-0.707L0.508,-0.21Z", "filled": true, "color": "#000000", "size": 100, "opacity": 1, "clip": true}, "encoding": {"x": {"field": "year", "type": "quantitative"}, "y": {"field": "pred", "type": "quantitative", "title": "Yield anomaly (t DM ha⁻¹ SD⁻¹)"}}},
{"data": {"name": "a_pred"}, "mark": {"type": "point", "opacity": 0, "filled": true, "clip": true}, "encoding": {
"x": {"field": "year", "type": "quantitative"}, "y": {"field": "pred", "type": "quantitative", "title": "Yield anomaly (t DM ha⁻¹ SD⁻¹)"},
"fill": {"datum": "Prediction Model", "scale": {"domain": ["Yield anomaly", "Prediction Model", "21-yr running correlation"], "range": ["#63b33a", "#000000", "transparent"]}, "legend": {"title": null, "orient": "bottom-left", "offset": 10, "fillColor": "white", "strokeColor": "#262626", "padding": 3, "labelFont": "DejaVu Sans", "labelFontSize": 13, "labelColor": "#000000", "labelLimit": 0, "symbolSize": 100, "labelOffset": 21, "rowPadding": 0, "symbolOpacity": 1, "symbolStrokeWidth": 2}},
"stroke": {"datum": "Prediction Model", "scale": {"domain": ["Yield anomaly", "Prediction Model", "21-yr running correlation"], "range": ["#333333", "#000000", "#2451a4"]}, "legend": {"title": null, "orient": "bottom-left", "offset": 10, "fillColor": "white", "strokeColor": "#262626", "padding": 3, "labelFont": "DejaVu Sans", "labelFontSize": 13, "labelColor": "#000000", "labelLimit": 0, "symbolSize": 100, "labelOffset": 21, "rowPadding": 0, "symbolOpacity": 1, "symbolStrokeWidth": 2}},
"shape": {"datum": "Prediction Model", "scale": {"domain": ["Yield anomaly", "Prediction Model", "21-yr running correlation"], "range": ["M-1,-1.4H4.6V1.4H-1Z", "M-1,0H4.6M2.6,0L2.207,0.168L2.366,0.566L1.968,0.407L1.8,0.8L1.632,0.407L1.234,0.566L1.393,0.168L1,0L1.393,-0.168L1.234,-0.566L1.632,-0.407L1.8,-0.8L1.968,-0.407L2.366,-0.566L2.207,-0.168Z", "M-1,0H4.6"]}, "legend": {"title": null, "orient": "bottom-left", "offset": 10, "fillColor": "white", "strokeColor": "#262626", "padding": 3, "labelFont": "DejaVu Sans", "labelFontSize": 13, "labelColor": "#000000", "labelLimit": 0, "symbolSize": 100, "labelOffset": 21, "rowPadding": 0, "symbolOpacity": 1, "symbolStrokeWidth": 2}},
"strokeDash": {"datum": "Prediction Model", "scale": {"domain": ["Yield anomaly", "Prediction Model", "21-yr running correlation"], "range": [[1,0],[1,0],[7,4]]}, "legend": {"title": null, "orient": "bottom-left", "offset": 10, "fillColor": "white", "strokeColor": "#262626", "padding": 3, "labelFont": "DejaVu Sans", "labelFontSize": 13, "labelColor": "#000000", "labelLimit": 0, "symbolSize": 100, "labelOffset": 21, "rowPadding": 0, "symbolOpacity": 1, "symbolStrokeWidth": 2}}
}}
]},
{"layer": [
{"data": {"name": "a_corr"}, "mark": {"type": "line", "strokeWidth": 2.5, "strokeDash": [7, 4], "color": "#2451a4"}, "encoding": {
"x": {"field": "year", "type": "quantitative", "axis": {"orient": "top", "labels": false, "title": null, "values": [1960,1970,1980,1990,2000,2010]}},
"y": {"field": "corr", "type": "quantitative", "scale": {"domain": [-1, 1], "nice": false}, "axis": {"orient": "right", "values": [-1,-0.8,-0.6,-0.4,-0.2,0,0.2,0.4,0.6,0.8,1], "tickCount": 30, "labelOverlap": false, "labelExpr": "datum.value < 0 ? '-' + format(-datum.value, '~g') : format(datum.value, '~g')", "title": "Correlation Value", "titlePadding": 12, "domainColor": "#D95319", "tickColor": "#D95319", "labelColor": "#D95319", "titleColor": "#D95319"}}}},
{"data": {"name": "a_corr"}, "transform": [{"filter": "datum.sig"}], "mark": {"type": "point", "shape": "M1,0L0.508,0.21L0.707,0.707L0.21,0.508L0,1L-0.21,0.508L-0.707,0.707L-0.508,0.21L-1,0L-0.508,-0.21L-0.707,-0.707L-0.21,-0.508L0,-1L0.21,-0.508L0.707,-0.707L0.508,-0.21Z", "filled": true, "color": "#2451a4", "size": 90, "opacity": 1}, "encoding": {"x": {"field": "year", "type": "quantitative"}, "y": {"field": "corr", "type": "quantitative", "title": "Correlation Value"}}}
]}
],
"resolve": {"scale": {"y": "independent"}, "axis": {"x": "independent"}}
},
{
"width": 397, "height": 333,
"title": {"text": "(b)\u00a0\u00a0\u00a0\u00a0\u00a0\u00a0\u00a0Prediction Model OM Yield - July", "dx": -69, "offset": 17},
"layer": [
{"layer": [
{"data": {"name": "b_yield"}, "mark": {"type": "bar", "size": 6.2, "color": "#63b33a", "stroke": "#333333", "strokeWidth": 0.6, "clip": true},
"encoding": {
"x": {"field": "year", "type": "quantitative", "scale": {"domain": [1960, 2015], "nice": false, "zero": false}, "axis": {"values": [1960,1970,1980,1990,2000,2010], "format": "d", "title": "Year", "titlePadding": 9, "labelOverlap": false}},
"y": {"field": "yield", "type": "quantitative", "scale": {"domain": [-2.5, 2.5], "nice": false}, "axis": {"values": [-2.5,-2,-1.5,-1,-0.5,0,0.5,1,1.5,2,2.5], "tickCount": 30, "labelOverlap": false, "labelExpr": "datum.value < 0 ? '-' + format(-datum.value, '~g') : format(datum.value, '~g')", "title": "Yield anomaly (t DM ha⁻¹ SD⁻¹)", "titlePadding": 14, "domainColor": "#0072BD", "tickColor": "#0072BD", "labelColor": "#0072BD", "titleColor": "#0072BD"}}
}},
{"data": {"values": [{"yield": 0}]}, "mark": {"type": "rule", "color": "#333333", "strokeWidth": 1}, "encoding": {"y": {"field": "yield", "type": "quantitative"}}},
{"data": {"name": "b_pred"}, "mark": {"type": "line", "strokeWidth": 2, "color": "#000000", "clip": true}, "encoding": {"x": {"field": "year", "type": "quantitative"}, "y": {"field": "pred", "type": "quantitative", "title": "Yield anomaly (t DM ha⁻¹ SD⁻¹)"}}},
{"data": {"name": "b_pred"}, "mark": {"type": "point", "shape": "M1,0L0.508,0.21L0.707,0.707L0.21,0.508L0,1L-0.21,0.508L-0.707,0.707L-0.508,0.21L-1,0L-0.508,-0.21L-0.707,-0.707L-0.21,-0.508L0,-1L0.21,-0.508L0.707,-0.707L0.508,-0.21Z", "filled": true, "color": "#000000", "size": 100, "opacity": 1, "clip": true}, "encoding": {"x": {"field": "year", "type": "quantitative"}, "y": {"field": "pred", "type": "quantitative", "title": "Yield anomaly (t DM ha⁻¹ SD⁻¹)"}}},
{"data": {"name": "b_pred"}, "mark": {"type": "point", "opacity": 0, "filled": true, "clip": true}, "encoding": {
"x": {"field": "year", "type": "quantitative"}, "y": {"field": "pred", "type": "quantitative", "title": "Yield anomaly (t DM ha⁻¹ SD⁻¹)"},
"fill": {"datum": "Prediction Model", "scale": {"domain": ["Yield anomaly", "Prediction Model", "21-yr running correlation"], "range": ["#63b33a", "#000000", "transparent"]}, "legend": {"title": null, "orient": "bottom-left", "offset": 10, "fillColor": "white", "strokeColor": "#262626", "padding": 3, "labelFont": "DejaVu Sans", "labelFontSize": 13, "labelColor": "#000000", "labelLimit": 0, "symbolSize": 100, "labelOffset": 21, "rowPadding": 0, "symbolOpacity": 1, "symbolStrokeWidth": 2}},
"stroke": {"datum": "Prediction Model", "scale": {"domain": ["Yield anomaly", "Prediction Model", "21-yr running correlation"], "range": ["#333333", "#000000", "#2451a4"]}, "legend": {"title": null, "orient": "bottom-left", "offset": 10, "fillColor": "white", "strokeColor": "#262626", "padding": 3, "labelFont": "DejaVu Sans", "labelFontSize": 13, "labelColor": "#000000", "labelLimit": 0, "symbolSize": 100, "labelOffset": 21, "rowPadding": 0, "symbolOpacity": 1, "symbolStrokeWidth": 2}},
"shape": {"datum": "Prediction Model", "scale": {"domain": ["Yield anomaly", "Prediction Model", "21-yr running correlation"], "range": ["M-1,-1.4H4.6V1.4H-1Z", "M-1,0H4.6M2.6,0L2.207,0.168L2.366,0.566L1.968,0.407L1.8,0.8L1.632,0.407L1.234,0.566L1.393,0.168L1,0L1.393,-0.168L1.234,-0.566L1.632,-0.407L1.8,-0.8L1.968,-0.407L2.366,-0.566L2.207,-0.168Z", "M-1,0H4.6"]}, "legend": {"title": null, "orient": "bottom-left", "offset": 10, "fillColor": "white", "strokeColor": "#262626", "padding": 3, "labelFont": "DejaVu Sans", "labelFontSize": 13, "labelColor": "#000000", "labelLimit": 0, "symbolSize": 100, "labelOffset": 21, "rowPadding": 0, "symbolOpacity": 1, "symbolStrokeWidth": 2}},
"strokeDash": {"datum": "Prediction Model", "scale": {"domain": ["Yield anomaly", "Prediction Model", "21-yr running correlation"], "range": [[1,0],[1,0],[7,4]]}, "legend": {"title": null, "orient": "bottom-left", "offset": 10, "fillColor": "white", "strokeColor": "#262626", "padding": 3, "labelFont": "DejaVu Sans", "labelFontSize": 13, "labelColor": "#000000", "labelLimit": 0, "symbolSize": 100, "labelOffset": 21, "rowPadding": 0, "symbolOpacity": 1, "symbolStrokeWidth": 2}}
}}
]},
{"layer": [
{"data": {"name": "b_corr"}, "mark": {"type": "line", "strokeWidth": 2.5, "strokeDash": [7, 4], "color": "#2451a4"}, "encoding": {
"x": {"field": "year", "type": "quantitative", "axis": {"orient": "top", "labels": false, "title": null, "values": [1960,1970,1980,1990,2000,2010]}},
"y": {"field": "corr", "type": "quantitative", "scale": {"domain": [-1, 1], "nice": false}, "axis": {"orient": "right", "values": [-1,-0.8,-0.6,-0.4,-0.2,0,0.2,0.4,0.6,0.8,1], "tickCount": 30, "labelOverlap": false, "labelExpr": "datum.value < 0 ? '-' + format(-datum.value, '~g') : format(datum.value, '~g')", "title": "Correlation Value", "titlePadding": 12, "domainColor": "#D95319", "tickColor": "#D95319", "labelColor": "#D95319", "titleColor": "#D95319"}}}},
{"data": {"name": "b_corr"}, "transform": [{"filter": "datum.sig"}], "mark": {"type": "point", "shape": "M1,0L0.508,0.21L0.707,0.707L0.21,0.508L0,1L-0.21,0.508L-0.707,0.707L-0.508,0.21L-1,0L-0.508,-0.21L-0.707,-0.707L-0.21,-0.508L0,-1L0.21,-0.508L0.707,-0.707L0.508,-0.21Z", "filled": true, "color": "#2451a4", "size": 90, "opacity": 1}, "encoding": {"x": {"field": "year", "type": "quantitative"}, "y": {"field": "corr", "type": "quantitative", "title": "Correlation Value"}}}
]}
],
"resolve": {"scale": {"y": "independent"}, "axis": {"x": "independent"}}
},
{
"width": 405, "height": 335,
"title": {"text": "(c)\u00a0\u00a021-yr run. corr. (3C yield vs. predictors)", "dx": -76, "offset": 17},
"layer": [
{"layer": [
{"data": {"values": [{"r": 0}]}, "mark": {"type": "rule", "color": "#000000", "strokeWidth": 1}, "encoding": {"y": {"field": "r", "type": "quantitative"}}},
{"data": {"values": [{"r": 0.433}]}, "mark": {"type": "rule", "color": "#000000", "strokeWidth": 1.2, "strokeDash": [5, 4]}, "encoding": {"y": {"field": "r", "type": "quantitative"}}},
{"data": {"name": "c"}, "mark": {"type": "line"}, "encoding": {
"x": {"field": "year", "type": "quantitative", "scale": {"domain": [1959, 2015], "nice": false, "zero": false}, "axis": {"values": [1960,1970,1980,1990,2000,2010], "format": "d", "title": "Year", "titlePadding": 4, "labelOverlap": false}},
"y": {"field": "r", "type": "quantitative", "scale": {"domain": [-0.3, 1], "nice": false}, "axis": {"values": [-0.2,0,0.2,0.4,0.6,0.8,1], "tickCount": 30, "labelOverlap": false, "labelExpr": "datum.value < 0 ? '-' + format(-datum.value, '~g') : format(datum.value, '~g')", "title": "21-yr Running Correlation Value", "titlePadding": 8}},
"color": {"field": "series", "type": "nominal", "scale": {"domain": ["c-Niño3.4-May0", "c-TNA-Sep(-1)", "c-MED-Feb0", "c-mslp-ind-Jan0", "c-mslp-ind-Feb0", "tmax-Apr0"], "range": ["#e31a1c", "#000000", "#b25db5", "#666666", "#666666", "#5bb030"]},
"legend": {"title": null, "orient": "bottom-right", "offset": 12, "fillColor": "white", "strokeColor": "#262626", "padding": 3, "labelFont": "DejaVu Sans", "labelFontSize": 13, "labelColor": "#000000", "labelLimit": 0, "symbolSize": 196, "symbolType": "M-1,0H3", "labelOffset": 18, "rowPadding": 0.5, "symbolStrokeWidth": 2.5}},
"strokeDash": {"field": "series", "type": "nominal", "scale": {"domain": ["c-Niño3.4-May0", "c-TNA-Sep(-1)", "c-MED-Feb0", "c-mslp-ind-Jan0", "c-mslp-ind-Feb0", "tmax-Apr0"], "range": [[1,0],[1,0],[1,0],[1,0],[6,4],[1,0]]},
"legend": {"title": null, "orient": "bottom-right", "offset": 12, "fillColor": "white", "strokeColor": "#262626", "padding": 3, "labelFont": "DejaVu Sans", "labelFontSize": 13, "labelColor": "#000000", "labelLimit": 0, "symbolSize": 196, "symbolType": "M-1,0H3", "labelOffset": 18, "rowPadding": 0.5, "symbolStrokeWidth": 2.5}},
"strokeWidth": {"condition": {"test": "datum.series === 'c-TNA-Sep(-1)'", "value": 1.5}, "value": 2.5}
}}
]},
{"data": {"name": "c"}, "transform": [{"filter": "datum.sig"}], "mark": {"type": "point", "shape": "M1,0L0.508,0.21L0.707,0.707L0.21,0.508L0,1L-0.21,0.508L-0.707,0.707L-0.508,0.21L-1,0L-0.508,-0.21L-0.707,-0.707L-0.21,-0.508L0,-1L0.21,-0.508L0.707,-0.707L0.508,-0.21Z", "filled": true, "size": 65, "opacity": 1}, "encoding": {
"x": {"field": "year", "type": "quantitative", "axis": {"orient": "top", "labels": false, "title": null, "values": [1960,1970,1980,1990,2000,2010]}},
"y": {"field": "r", "type": "quantitative", "axis": {"orient": "right", "labels": false, "title": null, "tickCount": 30, "values": [-0.2,0,0.2,0.4,0.6,0.8,1]}},
"color": {"field": "series", "type": "nominal", "legend": null}}}
],
"resolve": {"axis": {"x": "independent", "y": "independent"}}
},
{
"width": 405, "height": 335,
"title": {"text": "(d)\u00a0\u00a021-yr run. corr. (OM yield vs. predictors)", "dx": -69, "offset": 17},
"layer": [
{"layer": [
{"data": {"values": [{"r": 0}]}, "mark": {"type": "rule", "color": "#000000", "strokeWidth": 1}, "encoding": {"y": {"field": "r", "type": "quantitative"}}},
{"data": {"values": [{"r": 0.433}]}, "mark": {"type": "rule", "color": "#000000", "strokeWidth": 1.2, "strokeDash": [5, 4]}, "encoding": {"y": {"field": "r", "type": "quantitative"}}},
{"data": {"name": "d"}, "mark": {"type": "line", "strokeWidth": 2.5}, "encoding": {
"x": {"field": "year", "type": "quantitative", "scale": {"domain": [1959, 2015], "nice": false, "zero": false}, "axis": {"values": [1960,1970,1980,1990,2000,2010], "format": "d", "title": "Year", "titlePadding": 4, "labelOverlap": false}},
"y": {"field": "r", "type": "quantitative", "scale": {"domain": [-0.3, 1], "nice": false}, "axis": {"values": [-0.2,0,0.2,0.4,0.6,0.8,1], "tickCount": 30, "labelOverlap": false, "labelExpr": "datum.value < 0 ? '-' + format(-datum.value, '~g') : format(datum.value, '~g')", "title": "21-yr Running Correlation Value", "titlePadding": 8}},
"color": {"field": "series", "type": "nominal", "scale": {"domain": ["c-MED-Feb0", "c-tmin-Jul0"], "range": ["#b25db5", "#1f4e9f"]},
"legend": {"title": null, "orient": "bottom-left", "offset": 12, "fillColor": "white", "strokeColor": "#262626", "padding": 3, "labelFont": "DejaVu Sans", "labelFontSize": 13, "labelColor": "#000000", "labelLimit": 0, "symbolSize": 196, "symbolType": "M-1,0H3", "labelOffset": 18, "rowPadding": 0.5, "symbolStrokeWidth": 2.5}}
}}
]},
{"data": {"name": "d"}, "transform": [{"filter": "datum.sig"}], "mark": {"type": "point", "shape": "M1,0L0.508,0.21L0.707,0.707L0.21,0.508L0,1L-0.21,0.508L-0.707,0.707L-0.508,0.21L-1,0L-0.508,-0.21L-0.707,-0.707L-0.21,-0.508L0,-1L0.21,-0.508L0.707,-0.707L0.508,-0.21Z", "filled": true, "size": 65, "opacity": 1}, "encoding": {
"x": {"field": "year", "type": "quantitative", "axis": {"orient": "top", "labels": false, "title": null, "values": [1960,1970,1980,1990,2000,2010]}},
"y": {"field": "r", "type": "quantitative", "axis": {"orient": "right", "labels": false, "title": null, "tickCount": 30, "values": [-0.2,0,0.2,0.4,0.6,0.8,1]}},
"color": {"field": "series", "type": "nominal", "legend": null}}}
],
"resolve": {"axis": {"x": "independent", "y": "independent"}}
}
],
"config": {
"font": "DejaVu Sans",
"view": {"stroke": "#6e6e6e", "strokeWidth": 1},
"axis": {"labelFont": "DejaVu Sans", "labelFontSize": 14, "titleFont": "DejaVu Sans", "titleFontSize": 16, "titleFontWeight": "normal", "grid": false, "tickSize": -5, "labelPadding": 10, "titlePadding": 6, "domainColor": "#6e6e6e", "tickColor": "#6e6e6e", "labelColor": "#262626", "titleColor": "#262626", "labelFlush": false, "labelOverlap": false},
"title": {"font": "Liberation Sans", "fontSize": 26, "fontWeight": "normal", "anchor": "start", "frame": "group", "color": "#000000"}
}
}
